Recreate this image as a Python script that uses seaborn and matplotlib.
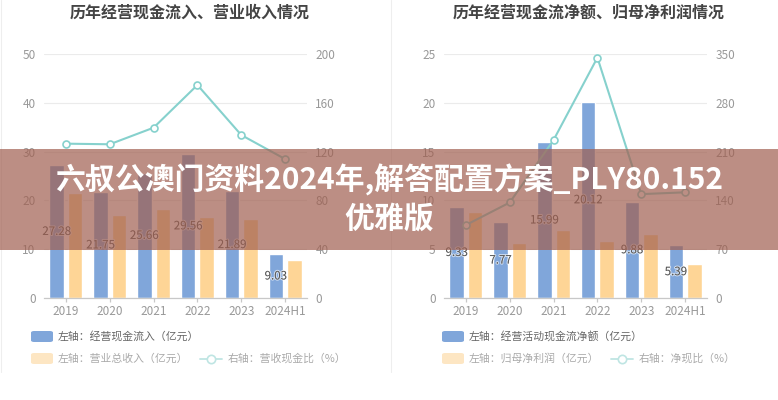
import numpy as np
import pandas as pd
import matplotlib
matplotlib.use("Agg")
import matplotlib.pyplot as plt
import seaborn as sns
from matplotlib.patches import FancyBboxPatch, Rectangle
from matplotlib.lines import Line2D
import matplotlib.patheffects as pe

# ---------------- data ----------------
years = ["2019", "2020", "2021", "2022", "2023", "2024H1"]

cash_inflow = [27.28, 21.75, 25.66, 29.56, 21.89, 9.03]      # 经营现金流入（亿元）
revenue = [21.5, 17.1, 18.2, 16.7, 16.2, 7.8]                # 营业总收入（亿元）
cash_rev_ratio = [126.5, 126.0, 139.6, 174.6, 133.6, 113.9]  # 营收现金比（%）

op_cash_net = [9.33, 7.77, 15.99, 20.12, 9.88, 5.39]         # 经营活动现金流净额（亿元）
net_profit = [8.8, 5.6, 7.0, 5.8, 6.6, 3.5]                  # 归母净利润（亿元）
net_cash_ratio = [104.7, 137.0, 226.7, 344.8, 149.0, 151.6]  # 净现比（%）

titles = ["历年经营现金流入、营业收入情况", "历年经营现金流净额、归母净利润情况"]
legend1 = ["左轴：经营现金流入（亿元）", "左轴：营业总收入（亿元）", "右轴：营收现金比（%）"]
legend2 = ["左轴：经营活动现金流净额（亿元）", "左轴：归母净利润（亿元）", "右轴：净现比（%）"]
banner_line1 = "六叔公澳门资料2024年,解答配置方案_PLY80.152"
banner_line2 = "优雅版"

# ---------------- style ----------------
BLUE = "#80a6da"
ORANGE = "#fed596"
TEAL = "#86d1cd"
W, H = 778, 400

sns.set_theme(style="white")
plt.rcParams["font.family"] = ["Noto Sans CJK SC", "DejaVu Sans"]

fig = plt.figure(figsize=(W / 100, H / 100), dpi=100)
fig.patch.set_facecolor("white")


def fx(px):
    return px / W


def fy(py):
    return 1 - py / H


def panel(left_px, bars_a, bars_b, line, lmax, lstep, rmax, rstep, names):
    ax = fig.add_axes([fx(left_px), fy(298), fx(263), 244 / H])
    df = pd.DataFrame({
        "year": years * 2,
        "series": [names[0]] * len(years) + [names[1]] * len(years),
        "value": list(bars_a) + list(bars_b),
    })
    sns.barplot(data=df, x="year", y="value", hue="series", order=years,
                palette=[BLUE, ORANGE], saturation=1, width=0.84, gap=0.21,
                legend=False, ax=ax, zorder=2)
    ax.bar_label(ax.containers[0], labels=[f"{v:.2f}" for v in bars_a],
                 label_type="center", color="#555555", fontsize=8.3,
                 path_effects=[pe.withStroke(linewidth=1.5, foreground=(1, 1, 1, 0.6))])
    ax.set_ylim(0, lmax)
    ax.set_yticks(np.arange(0, lmax + 0.001, lstep))
    ax.yaxis.grid(True, color="#ebebeb", linewidth=0.8)
    ax.set_axisbelow(True)
    ax.set_xlabel("")
    ax.set_ylabel("")
    for s in ["top", "right", "left"]:
        ax.spines[s].set_visible(False)
    ax.spines["bottom"].set_color("#c8c8c8")
    ax.spines["bottom"].set_linewidth(0.9)
    ax.tick_params(axis="x", length=3, width=0.9, color="#c8c8c8",
                   labelcolor="#999999", labelsize=8.5, pad=2, bottom=True)
    ax.tick_params(axis="y", length=0, labelcolor="#999999", labelsize=8.5, pad=6)

    ax2 = ax.twinx()
    sns.lineplot(x=years, y=line, ax=ax2, sort=False, color=TEAL, linewidth=1.5,
                 marker="o", markersize=5, markerfacecolor="white",
                 markeredgecolor=TEAL, markeredgewidth=1.2)
    ax2.set_ylim(0, rmax)
    ax2.set_yticks(np.arange(0, rmax + 0.001, rstep))
    ax2.set_ylabel("")
    for s in ax2.spines.values():
        s.set_visible(False)
    ax2.tick_params(axis="y", length=0, labelcolor="#999999", labelsize=8.5, pad=6)
    ax2.grid(False)
    ax.set_xlim(-0.5, len(years) - 0.5)
    return ax, ax2


panel(44, cash_inflow, revenue, cash_rev_ratio, 50, 10, 200, 40, legend1)
panel(444, op_cash_net, net_profit, net_cash_ratio, 25, 5, 350, 70, legend2)

# titles
for cx, t in zip([189.5, 589], titles):
    fig.text(fx(cx), fy(13), t, ha="center", va="center", fontsize=11.5,
             fontweight="bold", color="#444444")

# panel separators
for x in [1, 391]:
    fig.add_artist(Line2D([fx(x), fx(x)], [fy(0), fy(372)], color="#eeeeee",
                          linewidth=0.8, transform=fig.transFigure))


# legends
def legend(x0, labels, line_x):
    rows = [336.5, 358.5]
    cols = [(BLUE, "#666666"), ("#fde6c3", "#aaaaaa")]
    for (fc, tc), lab, ry in zip(cols, labels[:2], rows):
        fig.add_artist(FancyBboxPatch((fx(x0), fy(ry + 5.5)), fx(22), 11 / H,
                                      boxstyle="round,pad=0,rounding_size=0.004",
                                      facecolor=fc, edgecolor="none",
                                      transform=fig.transFigure))
        fig.text(fx(x0 + 27), fy(ry), lab, ha="left", va="center",
                 fontsize=7.8, color=tc)
    ry = rows[1]
    fig.add_artist(Line2D([fx(line_x), fx(line_x + 22)], [fy(ry), fy(ry)],
                          color="#bfe5e3", linewidth=1.3, transform=fig.transFigure))
    fig.add_artist(Line2D([fx(line_x + 11)], [fy(ry)], marker="o", markersize=6,
                          markerfacecolor="white", markeredgecolor="#bfe5e3",
                          markeredgewidth=1.2, transform=fig.transFigure))
    fig.text(fx(line_x + 28), fy(ry), labels[2], ha="left", va="center",
             fontsize=7.8, color="#aaaaaa")


legend(31, legend1, 200)
legend(442, legend2, 611)

# overlay banner
fig.add_artist(Rectangle((0, fy(250)), 1, 101 / H, transform=fig.transFigure,
                         facecolor=(160 / 255, 95 / 255, 80 / 255), alpha=0.7,
                         edgecolor="none", zorder=5))
fig.text(fx(389.5), fy(180), banner_line1, ha="center", va="center",
         fontsize=21.5, fontweight="heavy", color="white", zorder=6)
fig.text(fx(389.5), fy(219), banner_line2, ha="center", va="center",
         fontsize=21.5, fontweight="heavy", color="white", zorder=6)

fig.savefig("out.png", dpi=100)
